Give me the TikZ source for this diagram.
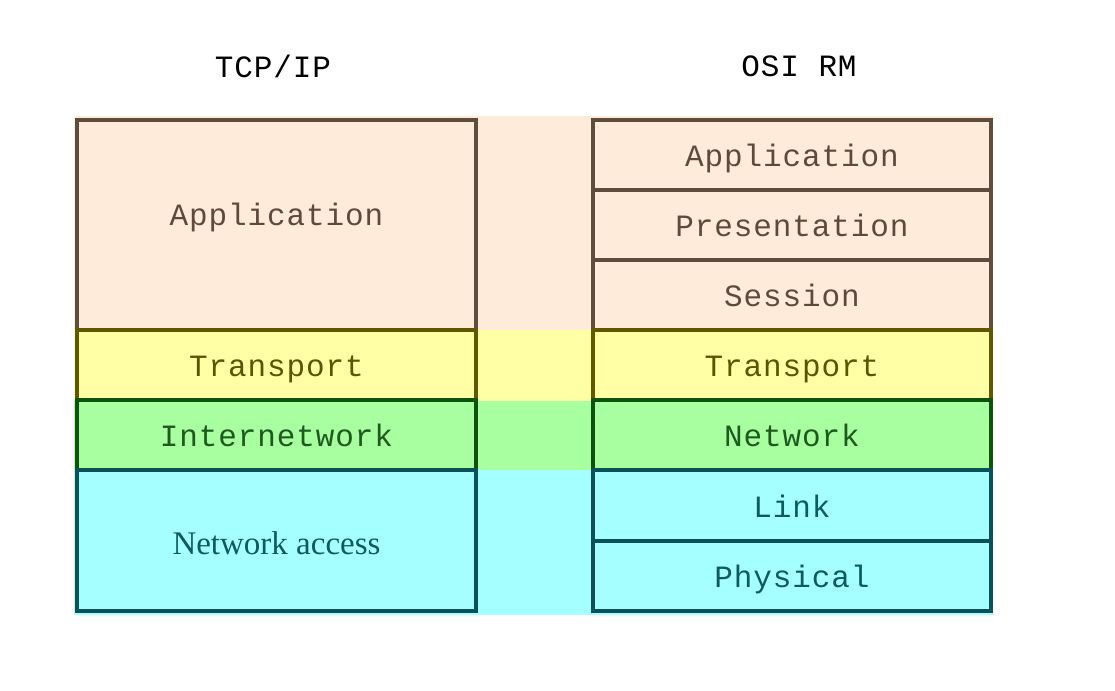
\documentclass[tikz,border=0pt]{standalone}
\usepackage{fontspec}
\setmainfont{Liberation Serif}
\newfontfamily\layerfont{Liberation Mono}[LetterSpace=2.9]
\usetikzlibrary{positioning}

\definecolor{appfill}{HTML}{FFEBD9}
\definecolor{appline}{HTML}{5E4D3C}
\definecolor{apptext}{HTML}{5C4B3D}
\definecolor{trfill}{HTML}{FFFFA6}
\definecolor{trline}{HTML}{5F5800}
\definecolor{trtext}{HTML}{5A5500}
\definecolor{netfill}{HTML}{A8FFA0}
\definecolor{netline}{HTML}{0E520E}
\definecolor{nettext}{HTML}{1E5A1E}
\definecolor{lnkfill}{HTML}{A6FFFF}
\definecolor{lnkline}{HTML}{0C5058}
\definecolor{lnktext}{HTML}{0E5A5E}

\newcommand{\typefont}{\layerfont\fontsize{31bp}{36bp}\selectfont}

\tikzset{
  layer/.style={draw,line width=3.2bp,inner sep=0pt,
    text height=24bp,text depth=0pt,font=\typefont},
  tcpbox/.style={layer,minimum width=399bp},
  osibox/.style={layer,minimum width=398bp,minimum height=70bp},
  heading/.style={anchor=base,inner sep=0pt,font=\typefont}
}

\begin{document}
\begin{tikzpicture}[line join=miter]

\useasboundingbox (0bp,0bp) rectangle (1115bp,691bp);

% Bands behind both stacks
\fill [appfill] (74bp,361bp) rectangle (993bp,575bp);
\fill [trfill] (74bp,290bp) rectangle (993bp,361bp);
\fill [netfill] (74bp,221bp) rectangle (993bp,290bp);
\fill [lnkfill] (74bp,76bp) rectangle (993bp,221bp);

% Headings
\node [heading] (tcphead) at (273bp,613bp) {TCP/IP};
\node [heading] (osihead) at (799bp,614bp) {OSI RM};

% Stack: TCP/IP
\node [tcpbox,minimum height=210bp,text depth=22bp,draw=appline,fill=appfill,text=apptext] (tcpapp) at (276.5bp,466bp) {Application};
\node [tcpbox,minimum height=70bp,draw=trline,fill=trfill,text=trtext] (tcptrans) at (276.5bp,326bp) {Transport};
\node [tcpbox,minimum height=70bp,draw=netline,fill=netfill,text=nettext] (tcpinet) at (276.5bp,256bp) {Internetwork};
\node [tcpbox,minimum height=141bp,text height=29bp,draw=lnkline,fill=lnkfill,text=lnktext,
       font=\rmfamily\fontsize{33bp}{36bp}\selectfont] (tcpnet) at (276.5bp,150.5bp) {Network access};

% Stack: OSI RM
\node [osibox,draw=appline,fill=appfill,text=apptext] (osiapp) at (792bp,536bp) {Application};
\node [osibox,draw=appline,fill=appfill,text=apptext] (osipres) at (792bp,466bp) {Presentation};
\node [osibox,draw=appline,fill=appfill,text=apptext] (osisess) at (792bp,396bp) {Session};
\node [osibox,draw=trline,fill=trfill,text=trtext] (ositrans) at (792bp,326bp) {Transport};
\node [osibox,draw=netline,fill=netfill,text=nettext] (osinet) at (792bp,256bp) {Network};
\node [osibox,minimum height=71bp,draw=lnkline,fill=lnkfill,text=lnktext] (osilink) at (792bp,185.5bp) {Link};
\node [osibox,draw=lnkline,fill=lnkfill,text=lnktext] (osiphys) at (792bp,115bp) {Physical};

\end{tikzpicture}
\end{document}
